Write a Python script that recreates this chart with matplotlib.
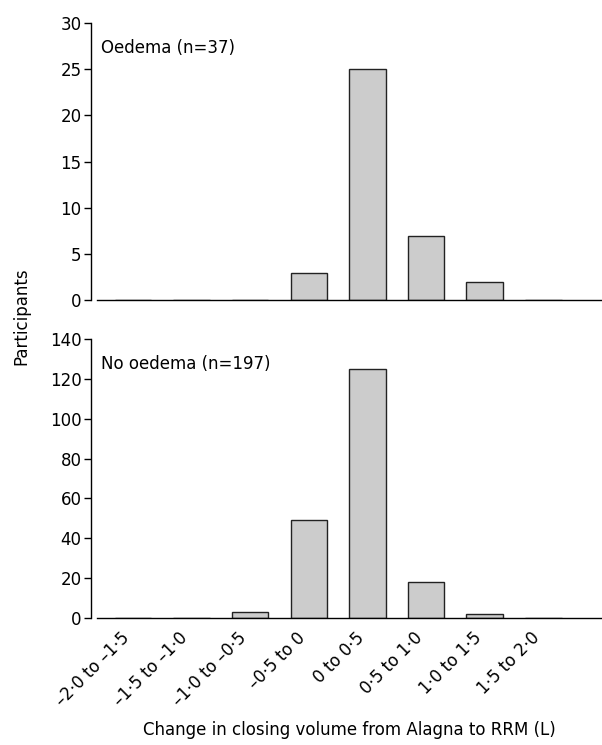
import numpy as np
import matplotlib
matplotlib.use('Agg')
import matplotlib.pyplot as plt
import matplotlib.transforms as mtransforms

plt.rcParams['font.family'] = ['DejaVu Sans']
plt.rcParams['font.size'] = 12

# Bins of change in closing volume (L)
bins = ['–2·0 to –1·5', '–1·5 to –1·0', '–1·0 to –0·5', '–0·5 to 0',
        '0 to 0·5', '0·5 to 1·0', '1·0 to 1·5', '1·5 to 2·0']
oedema = [0, 0, 0, 3, 25, 7, 2, 0]
no_oedema = [0, 0, 3, 49, 125, 18, 2, 0]

fig = plt.figure(figsize=(6.02, 7.45), dpi=100)
ax_top = fig.add_axes([0.161, 0.597, 0.839, 0.372])
ax_bot = fig.add_axes([0.161, 0.1705, 0.839, 0.3745])

x = np.arange(len(bins))
panels = [
    (ax_top, oedema, 'Oedema (n=37)', 30, 5),
    (ax_bot, no_oedema, 'No oedema (n=197)', 140, 20),
]
for ax, vals, title, ymax, step in panels:
    ax.bar(x, vals, width=0.62, color='#cccccc', edgecolor='#222222', linewidth=1.0)
    ax.set_xlim(-0.61, 8.0)
    ax.set_ylim(0, ymax)
    ax.set_yticks(np.arange(0, ymax + 1, step))
    ax.spines['top'].set_visible(False)
    ax.spines['right'].set_visible(False)
    ax.spines['left'].set_position(('outward', 4))
    ax.spines['left'].set_linewidth(1.0)
    ax.spines['bottom'].set_linewidth(1.0)
    ax.tick_params(axis='y', length=5, width=1.0, pad=2)
    ax.text(0.008, 0.91, title, transform=ax.transAxes, ha='left', va='center')
    ax.set_xticks(x)

ax_top.tick_params(axis='x', length=0, labelbottom=False)
ax_bot.tick_params(axis='x', length=0, pad=6)
ax_bot.set_xticklabels(bins, rotation=45, ha='right', rotation_mode='anchor')
# nudge the rotated labels left so they end just before the bar centre
shift = mtransforms.ScaledTranslation(-9 / 72, -2 / 72, fig.dpi_scale_trans)
for lab in ax_bot.get_xticklabels():
    lab.set_transform(lab.get_transform() + shift)
ax_bot.set_xlabel('Change in closing volume from Alagna to RRM (L)', labelpad=8)

fig.text(0.035, 0.575, 'Participants', rotation=90, ha='center', va='center')

fig.savefig('out.png', dpi=100)
